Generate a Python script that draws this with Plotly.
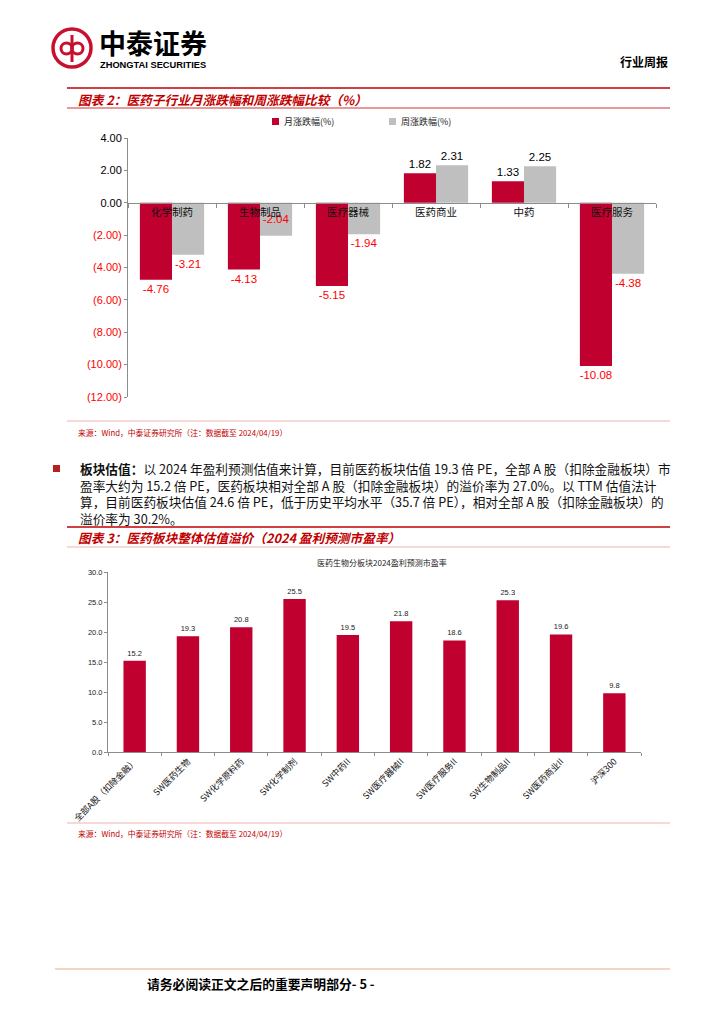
import plotly.graph_objects as go

W, H = 724, 1024
OFF = 8  # page body margin offset compensation

# ---------------- data ----------------
cats1 = ["化学制药", "生物制品", "医疗器械", "医药商业", "中药", "医疗服务"]
monthly = [-4.76, -4.13, -5.15, 1.82, 1.33, -10.08]
weekly = [-3.21, -2.04, -1.94, 2.31, 2.25, -4.38]
y1_ticks = [4, 2, 0, -2, -4, -6, -8, -10, -12]

cats2 = ["全部A股（扣除金融）", "SW医药生物", "SW化学原料药", "SW化学制剂", "SW中药II",
         "SW医疗器械II", "SW医疗服务II", "SW生物制品II", "SW医药商业II", "沪深300"]
pe2024 = [15.2, 19.3, 20.8, 25.5, 19.5, 21.8, 18.6, 25.3, 19.6, 9.8]
y2_ticks = [0, 5, 10, 15, 20, 25, 30]

RED_BAR = "#C0002F"
GRAY_BAR = "#BFBFBF"
TITLE_RED = "#C00000"
NEG_RED = "#FF0000"
AXIS = "#8C8C8C"
CJK = "Noto Sans CJK SC"
LAT = "Liberation Sans, Arial, sans-serif"


def X(px):
    return (px - OFF) / W


def Y(py):
    return 1 - (py - OFF) / H


fig = go.Figure()

# ---------------- chart 1 ----------------
def lbl(v):
    return f"{v:.2f}"

def lbl_color(v):
    return "#000000" if v >= 0 else NEG_RED

m_pos = ["outside"] * len(monthly)
w_pos = ["inside" if c == "生物制品" else "outside" for c in cats1]

fig.add_trace(go.Bar(
    x=cats1, y=monthly, name="月涨跌幅(%)", marker=dict(color=RED_BAR, line=dict(width=0)),
    text=[lbl(v) for v in monthly], textposition=m_pos, textangle=0,
    textfont=dict(family=LAT, size=11.5, color=[lbl_color(v) for v in monthly]),
    insidetextanchor="middle",
    constraintext="none", cliponaxis=False,
    xaxis="x", yaxis="y", showlegend=False,
))
fig.add_trace(go.Bar(
    x=cats1, y=weekly, name="周涨跌幅(%)", marker=dict(color=GRAY_BAR, line=dict(width=0)),
    text=[lbl(v) for v in weekly], textposition=w_pos, textangle=0,
    textfont=dict(family=LAT, size=11.5, color=[lbl_color(v) for v in weekly]),
    insidetextanchor="middle",
    constraintext="none", cliponaxis=False,
    xaxis="x", yaxis="y", showlegend=False,
))

# ---------------- chart 2 ----------------
fig.add_trace(go.Bar(
    x=cats2, y=pe2024, width=0.42, marker=dict(color=RED_BAR, line=dict(width=0)),
    text=[f"{v:.1f}" for v in pe2024], textposition="outside", textangle=0,
    textfont=dict(family=LAT, size=7.5, color="#222222"),
    constraintext="none", cliponaxis=False,
    xaxis="x2", yaxis="y2", showlegend=False,
))

# domains (pixel based)
c1_x0, c1_x1 = X(128), X(656)
c1_y0, c1_y1 = Y(397), Y(138)
y1_min, y1_max = -12, 4
zero_pos = c1_y0 + (0 - y1_min) / (y1_max - y1_min) * (c1_y1 - c1_y0)

c2_x0, c2_x1 = X(108), X(641)
c2_y0, c2_y1 = Y(752), Y(572)

y1_text = [f"{v:.2f}" if v >= 0 else f"<span style='color:{NEG_RED}'>({-v:.2f})</span>" for v in y1_ticks]

fig.update_layout(
    width=W, height=H, autosize=False,
    margin=dict(l=0, r=0, t=0, b=0, pad=0, autoexpand=False),
    paper_bgcolor="white", plot_bgcolor="white",
    barmode="group", bargap=0.27, bargroupgap=0,
    font=dict(family=CJK, color="#000000"),
    xaxis=dict(domain=[c1_x0, c1_x1], anchor="free", position=zero_pos,
               type="category", tickson="boundaries", ticks="outside", ticklen=4,
               tickcolor=AXIS, showline=True, linecolor=AXIS, linewidth=1,
               showgrid=False, zeroline=False, automargin=False,
               tickfont=dict(family=CJK, size=10.5, color="#111111")),
    yaxis=dict(domain=[c1_y0, c1_y1], range=[y1_min, y1_max], anchor="x",
               tickvals=y1_ticks, ticktext=y1_text, ticks="outside", ticklen=3,
               tickcolor=AXIS, showline=True, linecolor=AXIS, linewidth=1,
               showgrid=False, zeroline=False, automargin=False,
               tickfont=dict(family=LAT, size=11, color="#000000")),
    xaxis2=dict(domain=[c2_x0, c2_x1], anchor="y2", type="category",
                tickson="boundaries", ticks="outside", ticklen=3, tickcolor=AXIS,
                showline=True, linecolor=AXIS, linewidth=1, showgrid=False,
                automargin=False,
                tickangle=-45, tickfont=dict(family=CJK, size=8.8, color="#111111")),
    yaxis2=dict(domain=[c2_y0, c2_y1], range=[0, 30], anchor="x2",
                tickvals=y2_ticks, tickformat=".1f", ticks="outside", ticklen=3,
                tickcolor=AXIS, showline=True, linecolor=AXIS, linewidth=1,
                showgrid=False, zeroline=False, automargin=False,
                tickfont=dict(family=LAT, size=7.5, color="#222222")),
)

shapes = []
ann = []


def hline(py, x0, x1, color, width):
    shapes.append(dict(type="line", xref="paper", yref="paper", x0=X(x0), x1=X(x1),
                       y0=Y(py), y1=Y(py), line=dict(color=color, width=width)))


def text(px, py, s, size, color="#000000", family=CJK, anchor="left", bold=False, italic=False):
    if bold:
        s = f"<b>{s}</b>"
    ann.append(dict(xref="paper", yref="paper", x=X(px), y=Y(py), text=s, showarrow=False,
                    xanchor=anchor, yanchor="middle", align="left",
                    font=dict(family=family, size=size, color=color,
                              style="italic" if italic else "normal")))


# header: logo
shapes.append(dict(type="circle", xref="paper", yref="paper", x0=X(53), x1=X(91),
                   y0=Y(67), y1=Y(29), line=dict(color="#C8102E", width=3.5)))
shapes.append(dict(type="circle", xref="paper", yref="paper", x0=X(61), x1=X(72),
                   y0=Y(54), y1=Y(43), line=dict(color="#C8102E", width=3)))
shapes.append(dict(type="circle", xref="paper", yref="paper", x0=X(72), x1=X(83),
                   y0=Y(54), y1=Y(43), line=dict(color="#C8102E", width=3)))
shapes.append(dict(type="line", xref="paper", yref="paper", x0=X(72), x1=X(72),
                   y0=Y(62), y1=Y(35), line=dict(color="#C8102E", width=3)))
text(97, 42, "中泰证券", 27, bold=True)
text(98, 65, "ZHONGTAI SECURITIES", 9.3, family="Liberation Sans, Arial", bold=True)
text(670, 61, "行业周报", 12, anchor="right", bold=True)

# chart 1 title block
hline(88, 67, 670, "#C00000", 1.6)
text(76, 99, "图表 2：医药子行业月涨跌幅和周涨跌幅比较（%）", 12.7, color=TITLE_RED, bold=True, italic=True)
hline(108, 67, 670, "#C00000", 0.8)

# chart 1 legend
shapes.append(dict(type="rect", xref="paper", yref="paper", x0=X(272), x1=X(279),
                   y0=Y(125), y1=Y(118), fillcolor=RED_BAR, line=dict(width=0)))
text(282, 121, "月涨跌幅(%)", 9, color="#222222")
shapes.append(dict(type="rect", xref="paper", yref="paper", x0=X(389), x1=X(396),
                   y0=Y(125), y1=Y(118), fillcolor=GRAY_BAR, line=dict(width=0)))
text(399, 121, "周涨跌幅(%)", 9, color="#222222")

# source 1
hline(421, 67, 670, "#E8A0A0", 0.8)
text(76, 432, "来源：Wind，中泰证券研究所（注：数据截至 2024/04/19）", 7.8, color=TITLE_RED)

# paragraph (one text block, 4 lines)
shapes.append(dict(type="rect", xref="paper", yref="paper", x0=X(53), x1=X(60),
                   y0=Y(472), y1=Y(465), fillcolor="#B22222", line=dict(width=0)))
para = [
    "<b>板块估值：</b>以 2024 年盈利预测估值来计算，目前医药板块估值 19.3 倍 PE，全部 A 股（扣除金融板块）市",
    "盈率大约为 15.2 倍 PE，医药板块相对全部 A 股（扣除金融板块）的溢价率为 27.0%。以 TTM 估值法计",
    "算，目前医药板块估值 24.6 倍 PE，低于历史平均水平（35.7 倍 PE），相对全部 A 股（扣除金融板块）的",
    "溢价率为 30.2%。",
]
text(78, 469 + 1.5 * 16.5, "<br>".join(para), 12.7, color="#111111")

# chart 2 title block
hline(527, 67, 670, "#C00000", 1.6)
text(76, 537, "图表 3：医药板块整体估值溢价（2024 盈利预测市盈率）", 12.7, color=TITLE_RED, bold=True, italic=True)
hline(547, 67, 670, "#E8A0A0", 0.8)
text(382, 562, "医药生物分板块2024盈利预测市盈率", 8, color="#222222", anchor="center")

# source 2
hline(823, 67, 670, "#E8A0A0", 0.8)
text(76, 833, "来源：Wind，中泰证券研究所（注：数据截至 2024/04/19）", 7.8, color=TITLE_RED)

# footer
hline(969, 55, 670, "#EFC7B0", 1.5)
text(145, 983, "请务必阅读正文之后的重要声明部分- 5 -", 12.8, bold=True)

fig.update_layout(shapes=shapes, annotations=ann)
fig.write_html("out.html")
